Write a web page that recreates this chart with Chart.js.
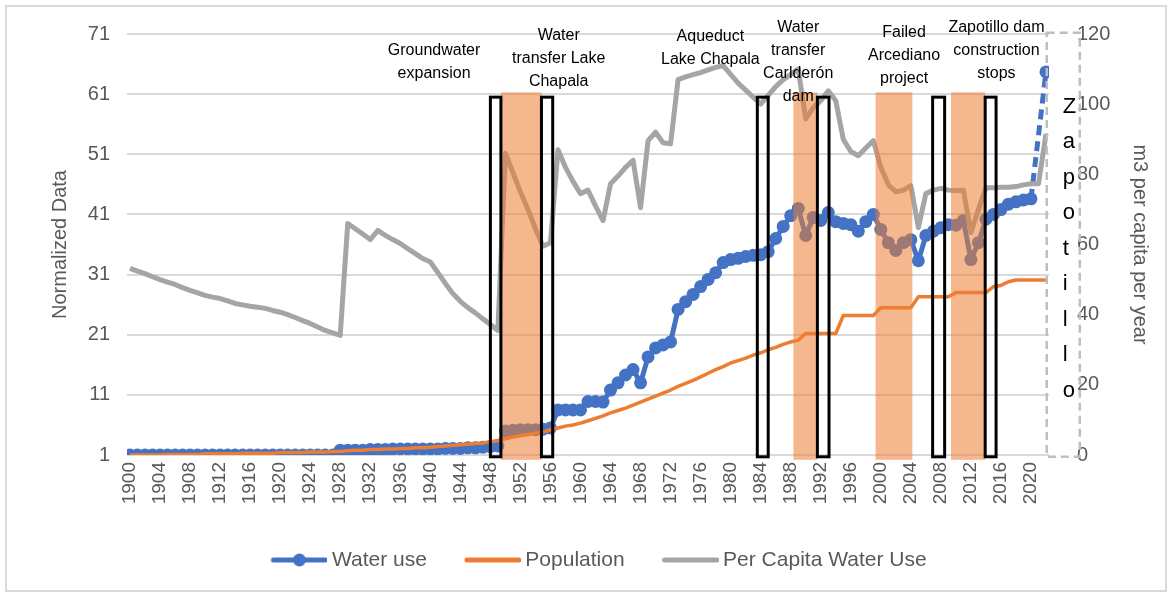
<!DOCTYPE html>
<html>
<head>
<meta charset="utf-8">
<script src="https://cdn.jsdelivr.net/npm/chart.js@4.4.1/dist/chart.umd.min.js"></script>
<style>
  html, body { margin: 0; padding: 0; background: #fff; }
  #wrap { position: relative; width: 1173px; height: 596px; }
  #frame { position: absolute; left: 5px; top: 5px; width: 1158px; height: 583px; border: 2px solid #d9d9d9; pointer-events: none; }
</style>
</head>
<body>
<div id="wrap">
  <canvas id="chart" width="1173" height="596"></canvas>
  <div id="frame"></div>
</div>
<script>
// categories: one point per year, 1900 - 2022
const years = Array.from({ length: 123 }, (_, i) => 1900 + i);
const tickYears = [1900, 1904, 1908, 1912, 1916, 1920, 1924, 1928, 1932, 1936, 1940, 1944, 1948, 1952, 1956, 1960,
  1964, 1968, 1972, 1976, 1980, 1984, 1988, 1992, 1996, 2000, 2004, 2008, 2012, 2016, 2020];

// Normalized water use (left axis), 2021 missing
const waterUse = [
  1.0, 1.0, 1.0, 1.0, 1.0, 1.0, 1.0, 1.0, 1.0, 1.0,
  1.0, 1.0, 1.0, 1.0, 1.0, 1.0, 1.0, 1.0, 1.0, 1.0,
  1.0, 1.0, 1.0, 1.0, 1.0, 1.0, 1.0, 1.0, 1.8, 1.8,
  1.8, 1.8, 1.9, 1.9, 1.9, 2.0, 2.0, 2.0, 2.0, 2.0,
  2.0, 2.0, 2.1, 2.1, 2.1, 2.2, 2.2, 2.3, 2.4, 2.5,
  5.0, 5.1, 5.2, 5.2, 5.2, 5.3, 5.5, 8.5, 8.5, 8.5,
  8.5, 9.9, 9.9, 9.8, 11.8, 13.0, 14.3, 15.2, 13.0, 17.3,
  18.8, 19.3, 19.8, 25.2, 26.5, 27.7, 29.0, 30.2, 31.3, 33.0,
  33.5, 33.7, 34.0, 34.2, 34.3, 34.8, 37.0, 39.0, 40.8, 42.0,
  37.5, 40.5, 40.0, 41.3, 39.8, 39.5, 39.3, 38.2, 39.8, 41.0,
  38.5, 36.3, 35.0, 36.3, 36.8, 33.3, 37.5, 38.2, 38.8, 39.3,
  39.2, 40.0, 33.5, 36.3, 40.2, 41.0, 41.8, 42.7, 43.1, 43.4,
  43.6, null, 64.7
];

// Normalized population (left axis)
const population = [
  1.0, 1.0, 1.0, 1.0, 1.0, 1.1, 1.1, 1.1, 1.1, 1.1,
  1.2, 1.2, 1.2, 1.2, 1.2, 1.3, 1.3, 1.3, 1.3, 1.3,
  1.4, 1.4, 1.4, 1.4, 1.5, 1.5, 1.5, 1.6, 1.6, 1.7,
  1.8, 1.8, 1.9, 1.9, 2.0, 2.0, 2.1, 2.1, 2.2, 2.2,
  2.3, 2.4, 2.5, 2.6, 2.7, 2.8, 2.9, 3.0, 3.2, 3.4,
  3.7, 4.0, 4.2, 4.4, 4.6, 4.8, 5.2, 5.5, 5.8, 6.0,
  6.3, 6.7, 7.1, 7.5, 8.0, 8.4, 8.8, 9.3, 9.8, 10.3,
  10.8, 11.3, 11.8, 12.4, 12.9, 13.4, 14.0, 14.6, 15.2, 15.7,
  16.3, 16.7, 17.1, 17.6, 18.0, 18.5, 18.9, 19.4, 19.8, 20.1,
  21.2, 21.2, 21.2, 21.2, 21.2, 24.2, 24.2, 24.2, 24.2, 24.2,
  25.5, 25.5, 25.5, 25.5, 25.5, 27.3, 27.3, 27.3, 27.3, 27.3,
  28.0, 28.0, 28.0, 28.0, 28.0, 29.0, 29.2, 29.8, 30.1, 30.1,
  30.1, 30.1, 30.1
];

// m3 per capita per year (right axis)
const perCapita = [
  53.2, 52.4, 51.7, 50.8, 50.0, 49.3, 48.6, 47.7, 46.9, 46.2,
  45.5, 45.0, 44.6, 43.9, 43.2, 42.8, 42.4, 42.1, 41.8, 41.2,
  40.7, 40.0, 39.2, 38.3, 37.5, 36.5, 35.5, 34.8, 34.1, 66.0,
  64.5, 63.0, 61.4, 64.0, 62.6, 61.4, 60.3, 58.8, 57.4, 56.0,
  55.0, 52.0, 48.9, 46.0, 43.8, 42.0, 40.5, 38.8, 37.2, 35.5,
  86.0, 80.5, 75.0, 70.0, 64.5, 59.5, 60.5, 87.0, 82.0, 78.0,
  74.5, 75.5, 71.0, 66.8, 77.3, 79.5, 82.0, 84.0, 70.5, 89.6,
  92.0, 89.0, 88.7, 107.0, 107.8, 108.4, 109.0, 109.8, 110.5, 111.0,
  108.5, 106.0, 104.0, 102.0, 100.0, 102.5, 105.0, 107.0, 108.5, 110.0,
  95.8, 99.0, 101.0, 103.8, 101.0, 90.0, 86.5, 85.3, 87.5, 89.6,
  82.0, 77.0, 75.0, 75.5, 76.8, 64.8, 74.5, 75.5, 76.0, 75.5,
  75.3, 75.5, 63.4, 70.0, 76.2, 76.2, 76.3, 76.3, 76.5, 77.0,
  77.3, 77.3, 91.5
];

// event periods (years)
const shadedSpans = [[1949.4, 1954.8], [1988.35, 1991.55], [1999.3, 2004.2], [2009.35, 2013.9]];
const boxSpans = [[1948.0, 1949.4], [1954.8, 1956.3], [1983.55, 1985.0], [1991.55, 1993.1], [2006.9, 2008.5], [2013.9, 2015.35]];
const eventNotes = [
  { year: 1940.5, value: 68.3, lines: ['Groundwater', 'expansion'] },
  { year: 1957.1, value: 70.8, lines: ['Water', 'transfer Lake', 'Chapala'] },
  { year: 1977.3, value: 70.5, lines: ['Aqueduct', 'Lake Chapala'] },
  { year: 1989.0, value: 72.0, lines: ['Water', 'transfer', 'Carlderón', 'dam'] },
  { year: 2003.1, value: 71.2, lines: ['Failed', 'Arcediano', 'project'] },
  { year: 2015.4, value: 72.0, lines: ['Zapotillo dam', 'construction', 'stops'] }
];
const sideNote = 'Zapotillo';

const BLUE = '#4472C4';
const ORANGE = '#ED7D31';
const GRAY = '#A5A5A5';
const TEXT = '#595959';
const FONT = '"Liberation Sans", Arial, sans-serif';

const toPoints = (vals) => vals.map((v, i) => ({ x: years[i], y: v }));

// little legend swatches: line, with a marker for water use
const swatch = (color, marker) => {
  const c = document.createElement('canvas');
  c.width = 90;
  c.height = 16;
  const g = c.getContext('2d');
  g.strokeStyle = color;
  g.lineWidth = 5;
  g.lineCap = 'round';
  g.beginPath();
  g.moveTo(36, 8);
  g.lineTo(88, 8);
  g.stroke();
  if (marker) {
    g.fillStyle = color;
    g.beginPath();
    g.arc(62, 8, 6.5, 0, Math.PI * 2);
    g.fill();
  }
  return c;
};

// vertical axes: fixed width, no extra top/bottom padding for the end labels
const fixWidth = (w) => (s) => {
  s.width = w;
  s.paddingTop = 0;
  s.paddingBottom = 0;
};

const eventLayer = {
  id: 'eventLayer',
  afterDraw(chart) {
    const { ctx, scales: { x, y } } = chart;
    ctx.save();

    ctx.fillStyle = 'rgba(237,125,49,0.55)';
    shadedSpans.forEach(([a, b]) => {
      const x0 = x.getPixelForValue(a), x1 = x.getPixelForValue(b);
      const y0 = y.getPixelForValue(61.3), y1 = y.getPixelForValue(0.2);
      ctx.fillRect(x0, y0, x1 - x0, y1 - y0);
    });

    ctx.strokeStyle = '#000';
    ctx.lineWidth = 3;
    boxSpans.forEach(([a, b]) => {
      const x0 = x.getPixelForValue(a), x1 = x.getPixelForValue(b);
      const y0 = y.getPixelForValue(60.5), y1 = y.getPixelForValue(0.7);
      ctx.strokeRect(x0, y0, x1 - x0, y1 - y0);
    });

    ctx.fillStyle = '#000';
    ctx.font = '16px ' + FONT;
    ctx.textAlign = 'center';
    ctx.textBaseline = 'middle';
    eventNotes.forEach((n) => {
      const px = x.getPixelForValue(n.year);
      const py = y.getPixelForValue(n.value);
      n.lines.forEach((line, i) => ctx.fillText(line, px, py + i * 23));
    });

    // dashed text box at the right with the stacked word
    const bx0 = x.getPixelForValue(2022.1), bx1 = x.getPixelForValue(2026.5);
    const by0 = y.getPixelForValue(71.2), by1 = y.getPixelForValue(0.7);
    ctx.setLineDash([8, 5]);
    ctx.strokeStyle = '#bfbfbf';
    ctx.lineWidth = 2.5;
    ctx.strokeRect(bx0, by0, bx1 - bx0, by1 - by0);
    ctx.setLineDash([]);

    ctx.fillStyle = '#000';
    ctx.font = '22px ' + FONT;
    ctx.textAlign = 'left';
    ctx.textBaseline = 'alphabetic';
    const base = y.getPixelForValue(57.9);
    sideNote.split('').forEach((ch, i) => ctx.fillText(ch, bx0 + 16, base + i * 35.5));

    ctx.restore();
  }
};

new Chart(document.getElementById('chart'), {
  type: 'line',
  data: {
    datasets: [
      {
        label: 'Water use',
        data: toPoints(waterUse),
        yAxisID: 'y',
        borderColor: BLUE,
        backgroundColor: BLUE,
        borderWidth: 5,
        pointRadius: 6.5,
        pointBorderWidth: 0,
        pointBackgroundColor: BLUE,
        spanGaps: true,
        order: 3,
        segment: {
          borderDash: (c) => (c.p1DataIndex === waterUse.length - 1 ? [10, 6] : undefined)
        }
      },
      {
        label: 'Population',
        data: toPoints(population),
        yAxisID: 'y',
        borderColor: ORANGE,
        backgroundColor: ORANGE,
        borderWidth: 3.5,
        pointRadius: 0,
        order: 2
      },
      {
        label: 'Per Capita Water Use',
        data: toPoints(perCapita),
        yAxisID: 'y1',
        borderColor: GRAY,
        backgroundColor: GRAY,
        borderWidth: 5,
        pointRadius: 0,
        order: 1
      }
    ]
  },
  options: {
    responsive: false,
    animation: false,
    devicePixelRatio: 1,
    layout: { padding: { left: 5, right: 8, top: 34, bottom: 15.5 } },
    elements: { line: { tension: 0, borderJoinStyle: 'round' } },
    plugins: {
      tooltip: { enabled: false },
      legend: {
        position: 'bottom',
        labels: {
          usePointStyle: true,
          pointStyleWidth: 78,
          padding: 10,
          color: TEXT,
          font: { family: FONT, size: 21 },
          generateLabels: (chart) => chart.data.datasets.map((d, i) => ({
            text: d.label,
            fontColor: TEXT,
            pointStyle: swatch(d.borderColor, i === 0),
            datasetIndex: i,
            lineWidth: 0,
            hidden: false
          }))
        }
      }
    },
    scales: {
      x: {
        type: 'linear',
        min: 1899.6,
        max: 2022.4,
        afterBuildTicks: (s) => { s.ticks = tickYears.map((v) => ({ value: v })); },
        afterFit: (s) => { s.height = 84.5; },
        grid: { display: false, drawTicks: false },
        border: { display: false },
        ticks: {
          autoSkip: false,
          minRotation: 90,
          maxRotation: 90,
          padding: 7,
          color: TEXT,
          font: { family: FONT, size: 19 },
          callback: (v) => String(v)
        }
      },
      y: {
        position: 'left',
        min: 1,
        max: 71,
        afterFit: fixWidth(122),
        grid: { color: '#d9d9d9', lineWidth: 2, drawTicks: false },
        border: { display: false },
        ticks: { stepSize: 10, padding: 17, color: TEXT, font: { family: FONT, size: 20 } },
        title: { display: true, text: 'Normalized Data', color: TEXT, font: { family: FONT, size: 20 }, padding: { top: 43, bottom: 0 } }
      },
      y1: {
        position: 'right',
        min: 0,
        max: 120,
        afterFit: fixWidth(116),
        grid: { display: false, drawTicks: false },
        border: { display: false },
        ticks: { stepSize: 20, padding: 28, color: TEXT, font: { family: FONT, size: 20 } },
        title: { display: true, text: 'm3 per capita per year', color: TEXT, font: { family: FONT, size: 20 }, padding: { top: 13, bottom: 0 } }
      }
    }
  },
  plugins: [eventLayer]
});
</script>
</body>
</html>
